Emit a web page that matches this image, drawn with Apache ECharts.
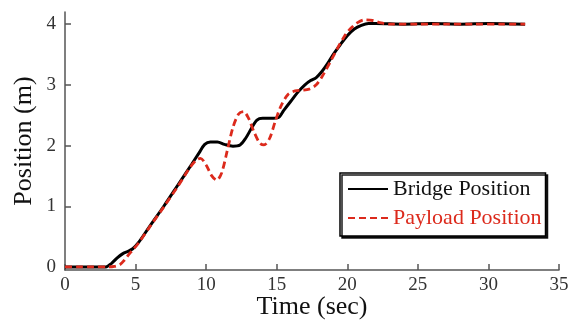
<!DOCTYPE html>
<html>
<head>
<meta charset="utf-8">
<script src="https://cdn.jsdelivr.net/npm/echarts@6/dist/echarts.min.js"></script>
<style>
  html, body { margin: 0; padding: 0; background: #fff; }
  #main { width: 570px; height: 321px; }
</style>
</head>
<body>
<div id="main"></div>
<script>
// time (sec) / position (m)
const bridgeTime = [0, 1, 2, 2.9, 3.3, 3.7, 4.1, 4.5, 4.8, 5.2, 6, 7, 8, 9, 9.5, 9.9, 10.3, 10.8, 11.3, 11.9, 12.4, 12.8, 13.2, 13.6, 14.0, 14.6, 15.1, 15.5, 16.0, 16.5, 17.0, 17.4, 17.8, 18.2, 18.6, 19.0, 19.5, 20.0, 20.5, 21.0, 21.5, 22, 24, 26, 28, 30, 32.6]
const bridgePos  = [0, 0, 0, 0, 0.06, 0.15, 0.22, 0.26, 0.3, 0.4, 0.67, 1.0, 1.35, 1.7, 1.88, 2.02, 2.06, 2.06, 2.02, 1.99, 2.01, 2.12, 2.28, 2.42, 2.45, 2.45, 2.46, 2.58, 2.73, 2.88, 3.0, 3.07, 3.12, 3.22, 3.35, 3.5, 3.66, 3.81, 3.92, 3.98, 4.01, 4.01, 4.0, 4.01, 4.0, 4.01, 4.0]

const payloadTime = [0, 1, 2, 3.0, 3.5, 3.9, 4.2, 4.5, 4.8, 5.2, 6, 7, 8, 8.8, 9.3, 9.6, 10.0, 10.4, 10.75, 11.1, 11.5, 11.9, 12.3, 12.65, 13.0, 13.4, 13.8, 14.1, 14.5, 14.9, 15.3, 15.8, 16.3, 16.8, 17.3, 17.8, 18.3, 18.8, 19.3, 19.8, 20.2, 20.7, 21.2, 21.8, 22.4, 23, 25, 27, 29, 31, 32.6]
const payloadPos  = [0, 0, 0, 0, 0.01, 0.04, 0.11, 0.2, 0.28, 0.39, 0.66, 0.99, 1.33, 1.62, 1.76, 1.79, 1.68, 1.5, 1.43, 1.55, 1.92, 2.3, 2.52, 2.56, 2.45, 2.22, 2.04, 2.01, 2.12, 2.4, 2.65, 2.84, 2.9, 2.91, 2.93, 3.0, 3.17, 3.38, 3.6, 3.8, 3.92, 4.02, 4.07, 4.06, 4.02, 4.0, 4.0, 4.0, 4.0, 4.0, 4.0]

const xTicks = [0, 5, 10, 15, 20, 25, 30, 35]
const yTicks = [0, 1, 2, 3, 4]

const seriesNames = ['Bridge Position', 'Payload Position']
const black = '#000000'
const red = '#dc2a1c'

const font = 'Liberation Serif'
const axisColor = '#555'

const zip = (a, b) => a.map((v, i) => [v, b[i]])

const chart = echarts.init(document.getElementById('main'))
chart.setOption({
  animation: false,
  backgroundColor: '#fff',
  grid: { left: 65, right: 11, top: 12, bottom: 51, outerBoundsMode: 'none' },
  xAxis: {
    type: 'value',
    min: 0, max: 35, interval: 5,
    name: 'Time (sec)',
    nameLocation: 'middle',
    nameGap: 24,
    nameMoveOverlap: false,
    nameTextStyle: { fontFamily: font, fontSize: 26, color: '#111' },
    axisLine: { onZero: false, lineStyle: { color: axisColor, width: 1.5 } },
    axisTick: { inside: true, length: 6, lineStyle: { color: axisColor, width: 1.5 } },
    axisLabel: { fontFamily: font, fontSize: 19, color: '#333', margin: 6, customValues: xTicks },
    splitLine: { show: false }
  },
  yAxis: {
    type: 'value',
    min: -0.05, max: 4.2,
    name: 'Position (m)',
    nameLocation: 'middle',
    nameGap: 28,
    nameMoveOverlap: false,
    nameTextStyle: { fontFamily: font, fontSize: 26, color: '#111' },
    axisLine: { show: true, lineStyle: { color: axisColor, width: 1.5 } },
    axisTick: { show: true, inside: true, length: 6, lineStyle: { color: axisColor, width: 1.5 }, customValues: yTicks },
    axisLabel: { fontFamily: font, fontSize: 19, color: '#333', margin: 9, customValues: yTicks },
    splitLine: { show: false }
  },
  legend: {
    orient: 'vertical',
    left: 340, top: 173,
    padding: [5, 4, 7, 7],
    itemGap: 7,
    itemWidth: 40,
    itemHeight: 14,
    backgroundColor: '#fff',
    borderColor: '#000',
    borderWidth: 1.5,
    shadowColor: 'rgba(0,0,0,0.9)',
    shadowBlur: 0,
    shadowOffsetX: 2,
    shadowOffsetY: 2,
    itemStyle: { opacity: 0 },
    textStyle: { fontFamily: font, fontSize: 22 },
    data: [
      { name: seriesNames[0], textStyle: { color: '#111' } },
      { name: seriesNames[1], textStyle: { color: red } }
    ]
  },
  series: [
    {
      name: seriesNames[0],
      type: 'line',
      data: zip(bridgeTime, bridgePos),
      symbol: 'none',
      smooth: 0.3,
      color: black,
      lineStyle: { color: black, width: 3 }
    },
    {
      name: seriesNames[1],
      type: 'line',
      data: zip(payloadTime, payloadPos),
      symbol: 'none',
      smooth: 0.3,
      color: red,
      lineStyle: { color: red, width: 2.8, type: [7, 4] }
    }
  ]
})
</script>
</body>
</html>
